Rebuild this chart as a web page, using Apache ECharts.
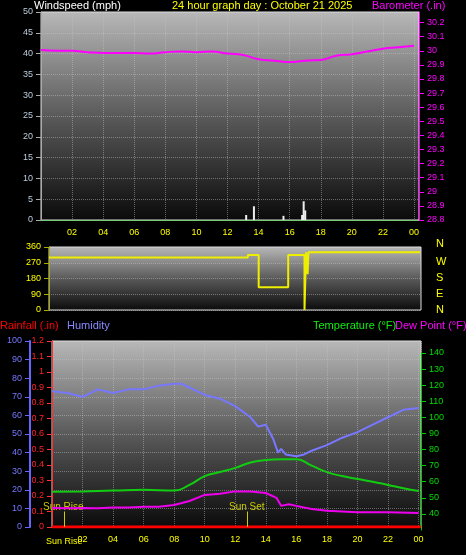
<!DOCTYPE html>
<html><head><meta charset="utf-8">
<script src="https://cdn.jsdelivr.net/npm/echarts@6/dist/echarts.min.js"></script>
<style>html,body{margin:0;padding:0;background:#000}#c{width:466px;height:555px}</style>
</head><body><div id="c"></div>
<script>
const hourTicks = ['02','04','06','08','10','12','14','16','18','20','22','00'];
const baro = [[0,30.005],[1,30.0],[2,30.0],[3,29.99],[4,29.985],[5,29.985],[6,29.985],[7,29.98],[8,29.99],[9,29.995],[10,29.99],[11,29.995],[12,29.98],[13,29.97],[14,29.94],[15,29.93],[16,29.92],[17,29.93],[18,29.935],[19,29.965],[20,29.975],[21,29.995],[22,30.015],[23,30.025],[24,30.035]];
const wind = [[13.2,1.2],[13.7,3.3],[15.6,1.0],[16.8,1.2],[16.9,4.5],[17.0,2.3]];
const windDir = [[0.5,300],[13.3,300],[13.3,315],[14.0,315],[14.0,130],[15.9,130],[15.9,315],[16.95,315],[16.95,0],[17.05,0],[17.05,330],[17.15,330],[17.15,205],[17.2,205],[17.2,330],[24.4,330]];
const humidity = [[0,73],[1,72],[2,70],[3,74],[4,72],[5,74],[6,74],[7,76],[8,77],[8.5,77],[9,75],[10,71],[11,69],[12,65],[13,59],[13.5,54],[14,55],[14.5,47],[14.8,40],[15,42],[15.3,39],[16,38],[16.5,39],[17,41],[18,44],[19,48],[20,51],[21,55],[22,59],[23,63],[24,64]];
const temperature = [[0,53.7],[2,54],[4,54.5],[6,55],[8,54.5],[9,58],[10,63.5],[11,66],[12,68.6],[13,72],[14,73.5],[15,74],[16,74],[17,70],[18,66],[19,63.5],[20,61.7],[21,60],[22,58],[23,56],[24,54.3]];
const dewPoint = [[0,43.7],[1,43.5],[2,43.7],[3,43.5],[4,44],[5,44],[6,44.5],[7,44.5],[8,45.5],[9,48],[10,51.8],[11,52.5],[12,54],[13,54],[14,53],[14.7,50],[15,45],[15.5,46],[16,45],[17,43],[18,42],[19,41.5],[20,41],[22,41],[24,40.5]];
const rainfall = [[0,0],[24.16,0]];

const bg = {type:'linear',x:0,y:0,x2:0,y2:1,colorStops:[{offset:0,color:'#b8b8b8'},{offset:0.5,color:'#5a5a5a'},{offset:1,color:'#0a0a0a'}]};
const split = {show:true,lineStyle:{color:'rgba(200,200,200,0.45)',type:'dotted'}};
const F = 'Liberation Sans, Arial, sans-serif';
function hx(v){ if(v===0) return ''; const h=Math.round(v)%24; return (h<10?'0':'')+h; }
function yl(color,w){ return {show:true,onZero:false,lineStyle:{color:color,width:w||1}}; }
const chart = echarts.init(document.getElementById('c'));
chart.setOption({
  backgroundColor:'#000', animation:false,
  textStyle:{fontFamily:F},
  grid:[
    {left:41,right:47,top:12,bottom:335,show:true,backgroundColor:bg,borderColor:'#ddd',borderWidth:1},
    {left:49,right:45,top:247,bottom:245,show:true,backgroundColor:bg,borderColor:'#ddd',borderWidth:1},
    {left:52,right:45,top:341,bottom:28,show:true,backgroundColor:bg,borderColor:'#ddd',borderWidth:1},
    {left:52,right:45,top:353,bottom:25,show:false}
  ],
  xAxis:[
    {gridIndex:0,type:'value',min:0,max:24.32,interval:2,axisLine:{onZero:false,lineStyle:{color:'#7c7'}},axisTick:{show:false},
     axisLabel:{color:'#ff0',fontSize:9,formatter:hx,showMaxLabel:false},splitLine:split},
    {gridIndex:1,type:'value',min:0.5,max:24.45,show:false,splitLine:{show:false}},
    {gridIndex:2,type:'value',min:0,max:24.16,interval:2,axisLine:{onZero:false,lineStyle:{color:'#7c7'}},axisTick:{show:false},
     axisLabel:{color:'#ff0',fontSize:9,formatter:hx,showMaxLabel:false},splitLine:split},
    {gridIndex:3,type:'value',min:0,max:24.16,show:false}
  ],
  yAxis:[
    {gridIndex:0,type:'value',position:'left',min:0,max:50,interval:5,axisLine:yl('#aaa'),axisTick:{show:true,lineStyle:{color:'#aaa'}},
     axisLabel:{color:'#bcd',fontSize:9},splitLine:split},
    {gridIndex:0,type:'value',position:'right',min:28.8,max:30.275,interval:0.1,axisLine:yl('#f0f'),axisTick:{show:true,lineStyle:{color:'#f0f'}},
     axisLabel:{color:'#f0f',fontSize:9,showMaxLabel:false,formatter:v=>String(+v.toFixed(1))},splitLine:{show:false}},
    {gridIndex:1,type:'value',position:'left',min:0,max:360,interval:90,axisLine:yl('#aa0'),axisTick:{show:true,lineStyle:{color:'#aa0'}},
     axisLabel:{color:'#ff0',fontSize:9},splitLine:split},
    {gridIndex:2,type:'value',position:'left',min:0,max:100,interval:10,offset:22,axisLine:yl('#66f',2),axisTick:{show:true,lineStyle:{color:'#66f'}},
     axisLabel:{color:'#77f',fontSize:9},splitLine:split},
    {gridIndex:2,type:'value',position:'left',min:0,max:1.2,interval:0.1,axisLine:yl('#f33'),axisTick:{show:true,lineStyle:{color:'#f33'}},
     axisLabel:{color:'#f22',fontSize:9,formatter:v=>String(+v.toFixed(1))},splitLine:{show:false}},
    {gridIndex:3,type:'value',position:'right',min:30,max:140,interval:10,axisLine:yl('#0c0'),axisTick:{show:true,lineStyle:{color:'#0c0'}},
     axisLabel:{color:'#0d0',fontSize:9,showMinLabel:false},splitLine:{show:false}}
  ],
  series:[
    {type:'line',xAxisIndex:0,yAxisIndex:1,data:baro,showSymbol:false,smooth:true,lineStyle:{color:'#f0f',width:2}},
    {type:'bar',xAxisIndex:0,yAxisIndex:0,data:wind,barWidth:2,itemStyle:{color:'#eee'}},
    {type:'line',xAxisIndex:1,yAxisIndex:2,data:windDir,showSymbol:false,lineStyle:{color:'#ee0',width:2}},
    {type:'line',xAxisIndex:2,yAxisIndex:3,data:humidity,showSymbol:false,lineStyle:{color:'#77f',width:2}},
    {type:'line',xAxisIndex:2,yAxisIndex:4,data:rainfall,showSymbol:false,lineStyle:{color:'#f00',width:3},
     markLine:{silent:true,symbol:'none',lineStyle:{color:'#cc0',type:'solid',width:1},
       label:{show:false},
       data:[[{coord:[0.8,0]},{coord:[0.8,0.1]}],[{coord:[12.8,0]},{coord:[12.8,0.1]}]]}},
    {type:'line',xAxisIndex:3,yAxisIndex:5,data:temperature,showSymbol:false,smooth:true,lineStyle:{color:'#1c1',width:2}},
    {type:'line',xAxisIndex:3,yAxisIndex:5,data:dewPoint,showSymbol:false,lineStyle:{color:'#e0e',width:2}}
  ],
  graphic:[
    {type:'text',left:34,top:0,style:{text:'Windspeed (mph)',fill:'#fff',font:'11px '+F}},
    {type:'text',left:172,top:0,style:{text:'24 hour graph day : October 21 2025',fill:'#ff0',font:'11px '+F}},
    {type:'text',left:372,top:0,style:{text:'Barometer (.in)',fill:'#f0f',font:'11px '+F}},
    {type:'text',left:436,top:238,style:{text:'N',fill:'#ff0',font:'11px '+F}},
    {type:'text',left:436,top:256,style:{text:'W',fill:'#ff0',font:'11px '+F}},
    {type:'text',left:436,top:272,style:{text:'S',fill:'#ff0',font:'11px '+F}},
    {type:'text',left:436,top:288,style:{text:'E',fill:'#ff0',font:'11px '+F}},
    {type:'text',left:436,top:304,style:{text:'N',fill:'#ff0',font:'11px '+F}},
    {type:'text',left:0,top:320,style:{text:'Rainfall (.in)',fill:'#f00',font:'11px '+F}},
    {type:'text',left:67,top:320,style:{text:'Humidity',fill:'#88f',font:'11px '+F}},
    {type:'text',left:313,top:320,style:{text:'Temperature (°F)',fill:'#1e1',font:'11px '+F}},
    {type:'text',left:395,top:320,style:{text:'Dew Point (°F)',fill:'#f0f',font:'11px '+F}},
    {type:'text',left:43,top:502,style:{text:'Sun Rise',fill:'#cc0',font:'10px '+F}},
    {type:'text',left:229,top:502,style:{text:'Sun Set',fill:'#cc0',font:'10px '+F}},
    {type:'text',left:46,top:537,style:{text:'Sun Rise',fill:'#ff0',font:'9px '+F}}
  ]
});
</script></body></html>
